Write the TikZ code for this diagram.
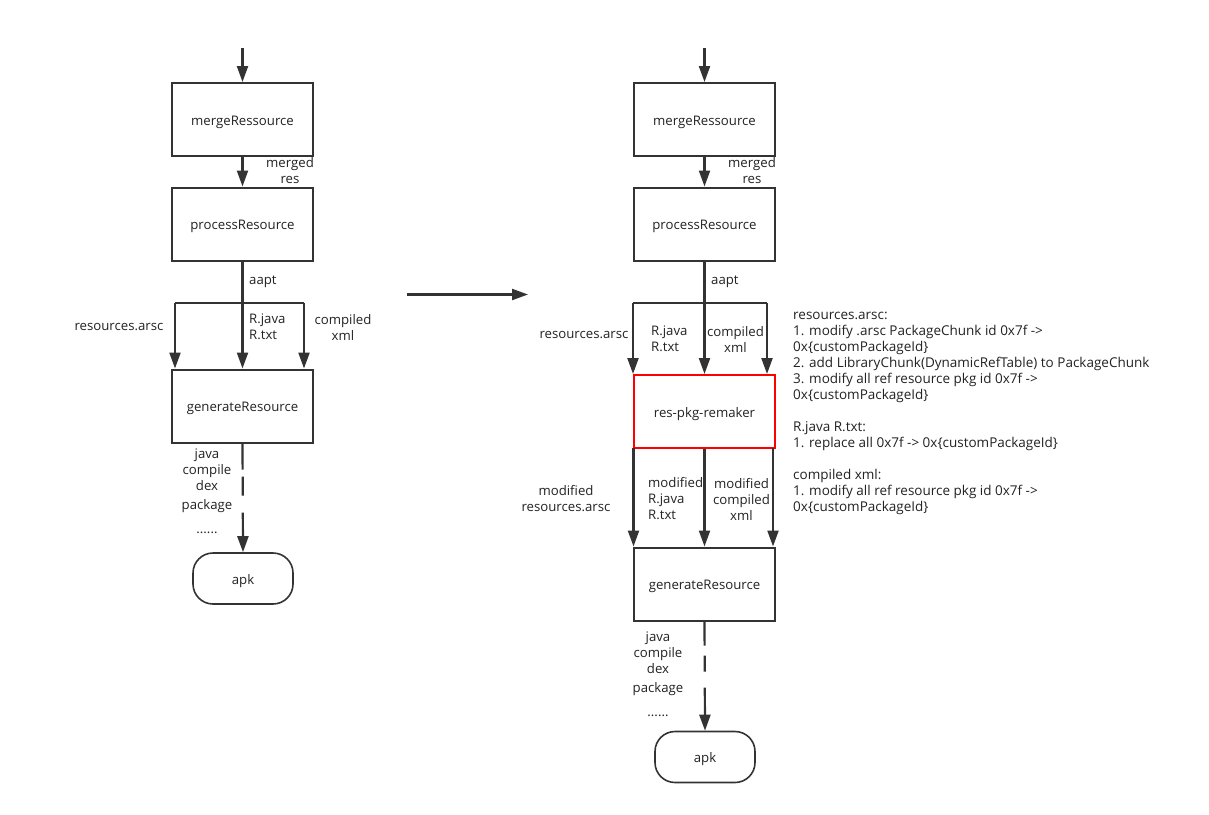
\documentclass[tikz,border=0pt]{standalone}
\usepackage{fontspec}
\setmainfont{Open Sans}
\usetikzlibrary{arrows.meta}
\definecolor{ink}{HTML}{333333}
\definecolor{txt}{HTML}{222222}
\tikzset{
  box/.style={draw=ink, line width=2pt, minimum width=141pt, minimum height=73pt, inner sep=0pt, text height=12pt, text depth=1pt, font=\fontsize{13.2}{16}\selectfont, text=txt},
  redbox/.style={box, draw=red},
  term/.style={draw=ink, line width=1.6pt, rounded corners=20pt, minimum width=100pt, minimum height=51pt, inner sep=0pt, text height=12pt, text depth=1pt, font=\fontsize{13.2}{16}\selectfont, text=txt},
  conn/.style={draw=ink, line width=2.2pt},
  arr/.style={conn, -{Triangle[length=16pt,width=11pt]}},
  lbl/.style={inner sep=0pt, font=\fontsize{13.2}{16}\selectfont, text=txt},
}
\begin{document}
\begin{tikzpicture}[x=1pt,y=-1pt]
\useasboundingbox (0,0) rectangle (1209,814);
% ---------------- left column ----------------
\node[box] (mergeL) at (242.5,119.5) {mergeRessource};
\node[box] (procL) at (242.5,224) {processResource};
\node[box] (genL) at (242.5,406) {generateResource};
\node[term] (apkL) at (243,578.5) {apk};
\coordinate (topL) at (242.5,48);
\coordinate (barLl) at (175,303);
\coordinate (barLr) at (304,303);
\draw[arr] (topL) -- (mergeL.north);
\draw[arr] (mergeL.south) -- (procL.north);
\draw[arr] (procL.south) -- (genL.north);
\draw[conn] (barLl) -- (barLr);
\draw[arr] (barLl) -- (barLl |- genL.north);
\draw[arr] (barLr) -- (barLr |- genL.north);
\draw[arr, dash pattern=on 26pt off 7pt on 19pt off 17pt on 200pt] (genL.south) -- (apkL.north);
\node[lbl, align=center] (mresL) at (290,171) {merged\\res};
\node[lbl, anchor=west] (aaptL) at (249,282) {aapt};
\node[lbl] (arscL) at (119,327) {resources.arsc};
\node[lbl, align=left, anchor=west] (rjL) at (249,327) {R.java\\R.txt};
\node[lbl, align=center] (cxL) at (343,327) {compiled\\xml};
\node[lbl, align=center, anchor=north] (javaL) at (207,449) {java\\compile\\dex\\[3pt]package\\[8pt]......};
% ---------------- middle arrow ----------------
\coordinate (midA) at (407,294.5);
\coordinate (midB) at (528,294.5);
\draw[arr] (midA) -- (midB);
% ---------------- right column ----------------
\node[box] (mergeR) at (704.5,119.5) {mergeRessource};
\node[box] (procR) at (704.5,224) {processResource};
\node[redbox] (remR) at (704.5,411.5) {res-pkg-remaker};
\node[box] (genR) at (704.5,584) {generateResource};
\node[term] (apkR) at (705,757) {apk};
\coordinate (topR) at (704.5,48);
\coordinate (barRl) at (633,303);
\coordinate (barRr) at (767,303);
\draw[arr] (topR) -- (mergeR.north);
\draw[arr] (mergeR.south) -- (procR.north);
\draw[arr] (procR.south) -- (remR.north);
\draw[conn] (barRl) -- (barRr);
\draw[arr] (barRl) -- (barRl |- remR.north);
\draw[arr] (barRr) -- (barRr |- remR.north);
\coordinate (outRl) at (633.5,448);
\coordinate (outRr) at (773,448);
\draw[arr] (outRl) -- (outRl |- genR.north);
\draw[arr] (remR.south) -- (genR.north);
\draw[arr] (outRr) -- (outRr |- genR.north);
\draw[arr, dash pattern=on 24pt off 10pt on 16pt off 16pt on 200pt] (genR.south) -- (apkR.north);
\node[lbl, align=center] (mresR) at (752,171) {merged\\res};
\node[lbl, anchor=west] (aaptR) at (711,282) {aapt};
\node[lbl] (arscR) at (584,335) {resources.arsc};
\node[lbl, align=left, anchor=west] (rjR) at (651,339) {R.java\\R.txt};
\node[lbl, align=center] (cxR) at (735.5,339) {compiled\\xml};
\node[lbl, align=center] (marscR) at (566,499) {modified\\resources.arsc};
\node[lbl, align=left, anchor=west] (mrjR) at (648,499) {modified\\R.java\\R.txt};
\node[lbl, align=center] (mcxR) at (741.5,499) {modified\\compiled\\xml};
\node[lbl, align=center, anchor=north] (javaR) at (658,632) {java\\compile\\dex\\[3pt]package\\[8pt]......};
\node[lbl, align=left, anchor=north west, font=\fontsize{13.5}{16}\selectfont] (notes) at (793,312) {resources.arsc:\\
1. modify .arsc PackageChunk id 0x7f ->\\
0x\{customPackageId\}\\
2. add LibraryChunk(DynamicRefTable) to PackageChunk\\
3. modify all ref resource pkg id 0x7f ->\\
0x\{customPackageId\}\\[16pt]
R.java R.txt:\\
1. replace all 0x7f -> 0x\{customPackageId\}\\[16pt]
compiled xml:\\
1. modify all ref resource pkg id 0x7f ->\\
0x\{customPackageId\}};
\end{tikzpicture}
\end{document}
